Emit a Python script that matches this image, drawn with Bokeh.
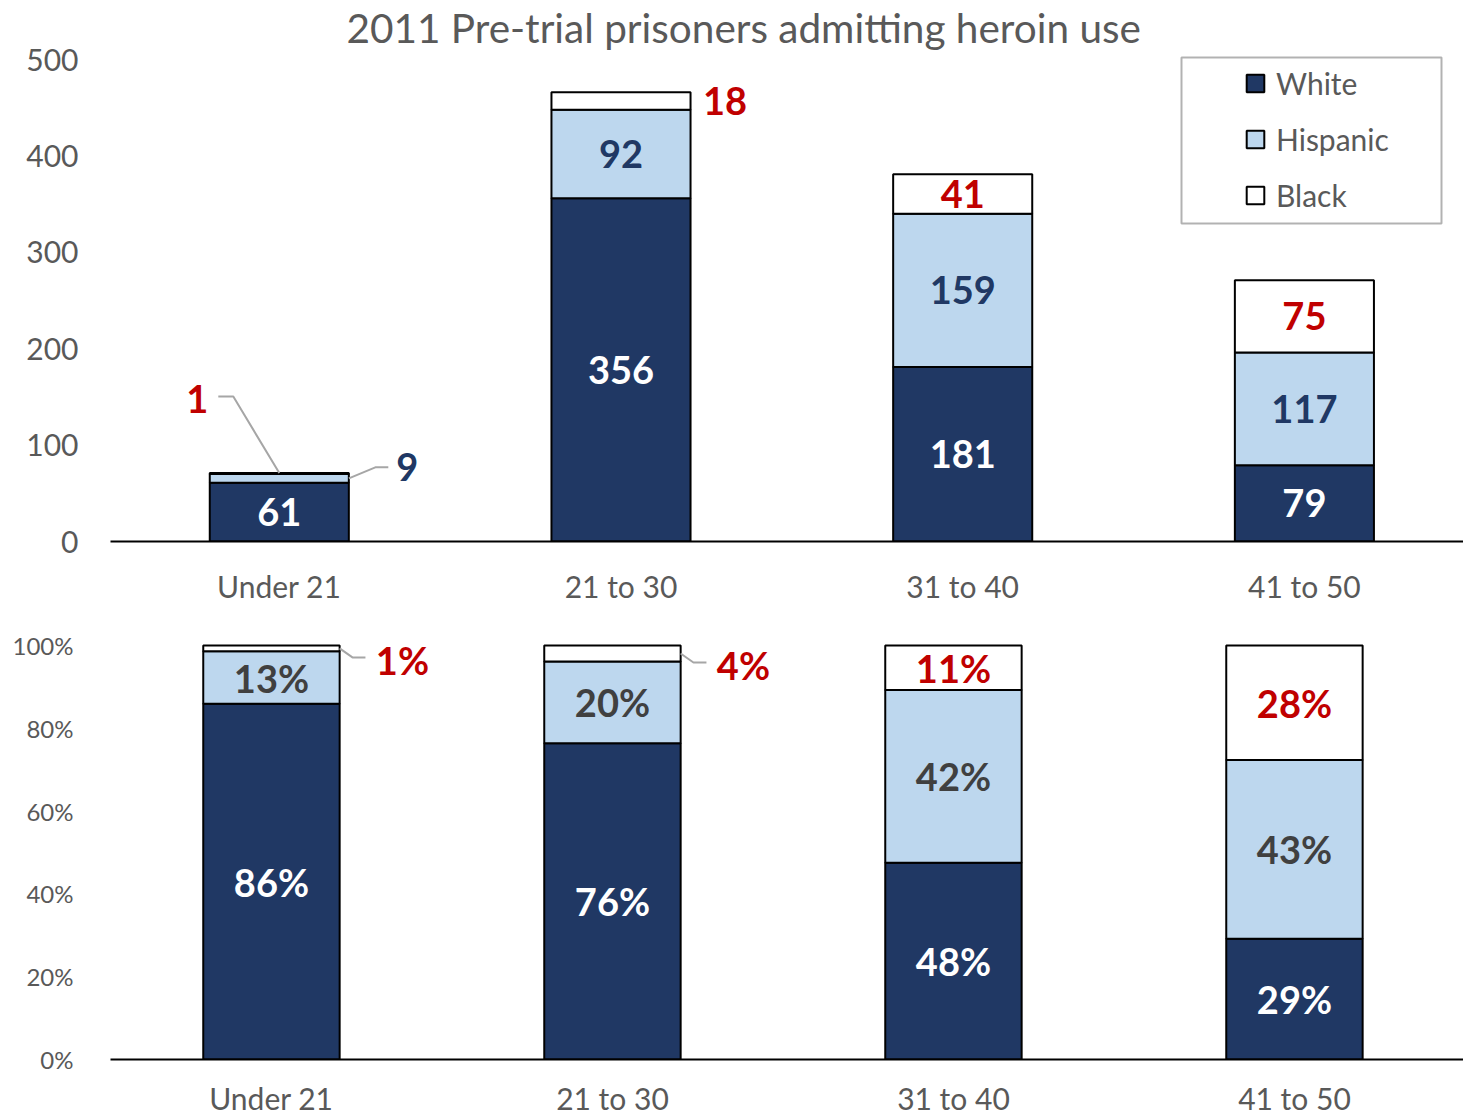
from bokeh.plotting import figure
from bokeh.models import (Range1d, FixedTicker, ColumnDataSource, Legend, LegendItem,
                          BoxAnnotation, PrintfTickFormatter)
from bokeh.layouts import column
from bokeh.embed import file_html
from bokeh.resources import INLINE
from bokeh.core.properties import value

# ---------------- data ----------------
age_groups = ["Under 21", "21 to 30", "31 to 40", "41 to 50"]
races = ["White", "Hispanic", "Black"]
white = [61, 356, 181, 79]
hispanic = [9, 92, 159, 117]
black = [1, 18, 41, 75]
count_ticks = [0, 100, 200, 300, 400, 500]
pct_ticks = [0, 20, 40, 60, 80, 100]
title_text = "2011 Pre-trial prisoners admitting heroin use"

# ---------------- style ----------------
NAVY = "#203864"
LIGHT = "#BDD7EE"
RED = "#C00000"
GREY = "#595959"
DARK = "#404040"
FONT = "Lato"

xs = list(range(len(age_groups)))
totals = [w + h + b for w, h, b in zip(white, hispanic, black)]


def base_style(p, label_standoff_x, ysize, ystandoff):
    p.xgrid.visible = False
    p.ygrid.visible = False
    p.outline_line_color = None
    p.background_fill_color = "white"
    p.border_fill_color = "white"
    p.xaxis.ticker = FixedTicker(ticks=xs)
    p.xaxis.major_label_overrides = {i: g for i, g in enumerate(age_groups)}
    p.xaxis.axis_line_color = "black"
    p.xaxis.axis_line_width = 2
    p.xaxis.major_tick_line_color = None
    p.xaxis.minor_tick_line_color = None
    p.xaxis.major_label_text_font = FONT
    p.xaxis.major_label_text_font_size = "30px"
    p.xaxis.major_label_text_color = GREY
    p.xaxis.major_label_standoff = label_standoff_x
    p.yaxis.axis_line_color = None
    p.yaxis.major_tick_line_color = None
    p.yaxis.minor_tick_line_color = None
    p.yaxis.major_label_text_font = FONT
    p.yaxis.major_label_text_font_size = ysize
    p.yaxis.major_label_text_color = GREY
    p.yaxis.major_label_standoff = ystandoff


def add_labels(p, xv, yv, texts, color, dx, dy):
    src = ColumnDataSource(dict(x=xv, y=yv, t=texts, dx=dx, dy=dy))
    p.text(x="x", y="y", text="t", x_offset="dx", y_offset="dy", source=src,
           text_align="center", text_baseline="middle", text_color=color,
           text_font=value(FONT), text_font_style="bold", text_font_size="38px")


def leader(xa, ya, lx, ly, pts_px, xpx, ypx):
    lxs = [xa] + [lx + px / xpx for px, py in pts_px]
    lys = [ya] + [ly - py / ypx for px, py in pts_px]
    return lxs, lys


# ================= top chart (counts) =================
TOP_LEFT = 110
TOP_FW, TOP_FH = 1463 - TOP_LEFT, 490
TOP_XPX, TOP_YPX = 341.7, 0.964
top_x0 = -0.494
BAR_W_TOP = 0.407

p1 = figure(frame_width=TOP_FW, frame_height=TOP_FH,
            x_range=Range1d(top_x0, top_x0 + TOP_FW / TOP_XPX),
            y_range=Range1d(0, TOP_FH / TOP_YPX),
            output_backend="svg", toolbar_location=None,
            min_border_left=TOP_LEFT, min_border_right=0, min_border_top=0,
            min_border_bottom=63, title=title_text)
p1.title.align = "left"
p1.title.offset = 236
p1.title.text_font = FONT
p1.title.text_font_size = "40.5px"
p1.title.text_font_style = "normal"
p1.title.text_color = GREY
p1.title.standoff = 0
base_style(p1, 20, "30px", 26)
p1.yaxis.ticker = FixedTicker(ticks=count_ticks)

src1 = ColumnDataSource(dict(x=xs, White=white, Hispanic=hispanic, Black=black))
rs1 = p1.vbar_stack(races, x="x", width=BAR_W_TOP, source=src1,
                    fill_color=[NAVY, LIGHT, "white"], line_color="black", line_width=2)

w_mid = [w / 2 for w in white]
h_mid = [w + h / 2 for w, h in zip(white, hispanic)]
b_mid = [w + h + b / 2 for w, h, b in zip(white, hispanic, black)]

hisp_dx_top = [128, 0, 0, 0]
hisp_dy_top = [-11, 0, 0, 0]
black_dx_top = [-82, 104, 0, 0]
black_dy_top = [-75, 0, 0, 0]

add_labels(p1, xs, w_mid, [str(v) for v in white], "white", [0] * 4, [0] * 4)
add_labels(p1, xs, h_mid, [str(v) for v in hispanic], NAVY, hisp_dx_top, hisp_dy_top)
add_labels(p1, xs, b_mid, [str(v) for v in black], RED, black_dx_top, black_dy_top)

# leader lines for the small Under 21 segments
lx9 = xs[0] + hisp_dx_top[0] / TOP_XPX
ly9 = h_mid[0] - hisp_dy_top[0] / TOP_YPX
l9 = leader(xs[0] + BAR_W_TOP / 2, h_mid[0], lx9, ly9, [(-32, 0), (-19, 0)], TOP_XPX, TOP_YPX)
lx1 = xs[0] + black_dx_top[0] / TOP_XPX
ly1 = b_mid[0] - black_dy_top[0] / TOP_YPX
l1 = leader(xs[0], totals[0], lx1, ly1, [(36, -2), (21, -2)], TOP_XPX, TOP_YPX)
p1.multi_line(xs=[l9[0], l1[0]], ys=[l9[1], l1[1]], line_color="#A6A6A6", line_width=2)

# legend
legend = Legend(items=[LegendItem(label=r, renderers=[rr]) for r, rr in zip(races, rs1)],
                location=(1134, 326), orientation="vertical",
                glyph_width=22, glyph_height=22, label_height=40, spacing=16,
                padding=0, margin=0, label_standoff=10,
                border_line_color=None, background_fill_alpha=0,
                label_text_font=FONT, label_text_font_size="30px",
                label_text_color=GREY)
p1.add_layout(legend)
lg_left = top_x0 + (1181 - TOP_LEFT) / TOP_XPX
lg_right = top_x0 + (1441 - TOP_LEFT) / TOP_XPX
p1.add_layout(BoxAnnotation(left=lg_left, right=lg_right,
                            top=(542 - 58) / TOP_YPX, bottom=(542 - 224) / TOP_YPX,
                            fill_alpha=0, line_color="black", line_width=2))

# ================= bottom chart (shares) =================
BOT_LEFT = 110
BOT_FW, BOT_FH = 1463 - BOT_LEFT, 453
BOT_XPX, BOT_YPX = 341.0, 4.14
bot_x0 = -0.472
BAR_W_BOT = 0.40

p2 = figure(frame_width=BOT_FW, frame_height=BOT_FH,
            x_range=Range1d(bot_x0, bot_x0 + BOT_FW / BOT_XPX),
            y_range=Range1d(0, BOT_FH / BOT_YPX),
            output_backend="svg", toolbar_location=None,
            min_border_left=BOT_LEFT, min_border_right=0, min_border_top=0,
            min_border_bottom=58)
base_style(p2, 14, "24px", 31)
p2.yaxis.ticker = FixedTicker(ticks=pct_ticks)
p2.yaxis.formatter = PrintfTickFormatter(format="%d%%")

pw = [100 * w / t for w, t in zip(white, totals)]
ph = [100 * h / t for h, t in zip(hispanic, totals)]
pb = [100 * b / t for b, t in zip(black, totals)]
src2 = ColumnDataSource(dict(x=xs, White=pw, Hispanic=ph, Black=pb))
p2.vbar_stack(races, x="x", width=BAR_W_BOT, source=src2,
              fill_color=[NAVY, LIGHT, "white"], line_color="black", line_width=2)

pw_mid = [w / 2 for w in pw]
ph_mid = [w + h / 2 for w, h in zip(pw, ph)]
pb_mid = [w + h + b / 2 for w, h, b in zip(pw, ph, pb)]

black_dx_bot = [131, 131, 0, 0]
black_dy_bot = [12, 12, 0, 0]

fmt = lambda v: f"{round(v):d}%"
add_labels(p2, xs, pw_mid, [fmt(v) for v in pw], "white", [0] * 4, [0] * 4)
add_labels(p2, xs, ph_mid, [fmt(v) for v in ph], DARK, [0] * 4, [0] * 4)
add_labels(p2, xs, pb_mid, [fmt(v) for v in pb], RED, black_dx_bot, black_dy_bot)

lead_x, lead_y = [], []
for i in range(2):
    lx = xs[i] + black_dx_bot[i] / BOT_XPX
    ly = pb_mid[i] - black_dy_bot[i] / BOT_YPX
    a, b = leader(xs[i] + BAR_W_BOT / 2, pb_mid[i], lx, ly, [(-50, -3), (-37, -3)], BOT_XPX, BOT_YPX)
    lead_x.append(a)
    lead_y.append(b)
p2.multi_line(xs=lead_x, ys=lead_y, line_color="#A6A6A6", line_width=2)

layout = column(p1, p2, spacing=0)
open("out.html", "w").write(file_html(layout, INLINE))
